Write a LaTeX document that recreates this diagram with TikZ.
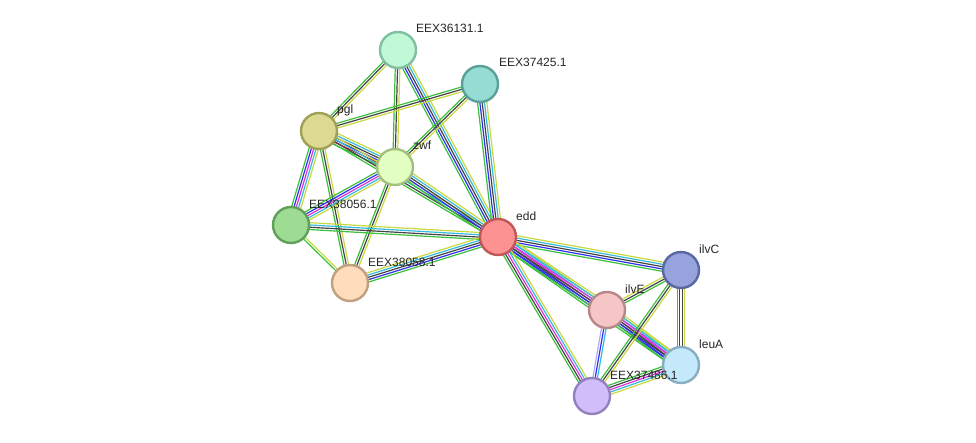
\documentclass[tikz,border=0pt]{standalone}
\usepackage{fontspec}
\setmainfont{Liberation Sans}
\usetikzlibrary{calc,backgrounds}
\definecolor{sg}{HTML}{3CC03C}
\definecolor{sb}{HTML}{3030F0}
\definecolor{sk}{HTML}{444444}
\definecolor{sm}{HTML}{DD33DD}
\definecolor{sc}{HTML}{33BBDD}
\definecolor{sy}{HTML}{C8D840}
\definecolor{sr}{HTML}{EE2222}
\definecolor{sl}{HTML}{AAAAFF}
\definecolor{fA}{HTML}{C0F9D6}\definecolor{dA}{HTML}{80C0A0}
\definecolor{fB}{HTML}{94DCD4}\definecolor{dB}{HTML}{58A098}
\definecolor{fC}{HTML}{DDD993}\definecolor{dC}{HTML}{A0A058}
\definecolor{fD}{HTML}{E2FEC0}\definecolor{dD}{HTML}{A4C080}
\definecolor{fE}{HTML}{9DDC92}\definecolor{dE}{HTML}{60A058}
\definecolor{fF}{HTML}{FD9292}\definecolor{dF}{HTML}{C05858}
\definecolor{fG}{HTML}{FEDCBC}\definecolor{dG}{HTML}{C0A080}
\definecolor{fH}{HTML}{96A3DC}\definecolor{dH}{HTML}{5A68A0}
\definecolor{fI}{HTML}{F6C6C6}\definecolor{dI}{HTML}{B88888}
\definecolor{fJ}{HTML}{C4E9FB}\definecolor{dJ}{HTML}{88ACC0}
\definecolor{fK}{HTML}{D0BEFA}\definecolor{dK}{HTML}{9480C0}
\tikzset{
  prot/.style={circle, minimum size=36pt, inner sep=0pt, line width=2.4pt},
  lab/.style={anchor=west, inner sep=0pt, font=\fontsize{12}{14}\selectfont, text=black!85},
}
\newcommand\sedge[3]{%
  \foreach \c [count=\k] in {#3}{\xdef\ncnt{\k}}%
  \foreach \c [count=\k] in {#3}{%
    \pgfmathsetmacro\off{(\k-(\ncnt+1)/2)*2.3}%
    \draw[\c, line width=1.2pt] ($(#1.center)!\off pt!90:(#2.center)$) -- ($(#2.center)!\off pt!-90:(#1.center)$);
  }}
\begin{document}
\begin{tikzpicture}[x=1pt,y=-1pt]
\useasboundingbox (0,0) rectangle (976,442);
% nodes
\node[prot, fill=fA, draw=dA] (n36131) at (398,50) {};
\node[prot, fill=fB, draw=dB] (n37425) at (480,84) {};
\node[prot, fill=fC, draw=dC] (pgl) at (319,131) {};
\node[prot, fill=fD, draw=dD] (zwf) at (395,167) {};
\node[prot, fill=fE, draw=dE] (n38056) at (291,225) {};
\node[prot, fill=fF, draw=dF] (edd) at (498,237) {};
\node[prot, fill=fG, draw=dG] (n38058) at (350,283) {};
\node[prot, fill=fH, draw=dH] (ilvC) at (681,270) {};
\node[prot, fill=fI, draw=dI] (ilvE) at (607,310) {};
\node[prot, fill=fJ, draw=dJ] (leuA) at (681,365) {};
\node[prot, fill=fK, draw=dK] (n37486) at (592,396) {};
% labels
\node[lab] (l36131) at (416,28) {EEX36131.1};
\node[lab] (l37425) at (499,62) {EEX37425.1};
\node[lab] (lpgl) at (337,110) {pgl};
\node[lab] (lzwf) at (413,145) {zwf};
\node[lab] (l38056) at (309,204) {EEX38056.1};
\node[lab] (ledd) at (516,216) {edd};
\node[lab] (l38058) at (368,262) {EEX38058.1};
\node[lab] (lilvC) at (699,249) {ilvC};
\node[lab] (lilvE) at (625,289) {ilvE};
\node[lab] (lleuA) at (699,344) {leuA};
\node[lab] (l37486) at (610,375) {EEX37486.1};
% edges
\begin{scope}[on background layer]
\sedge{n36131}{pgl}{sg,sk,sy}
\sedge{n36131}{zwf}{sg,sk,sy}
\sedge{n36131}{edd}{sg,sb,sk,sc,sy}
\sedge{n37425}{pgl}{sg,sk,sy}
\sedge{n37425}{zwf}{sg,sk,sy}
\sedge{n37425}{edd}{sg,sb,sk,sc,sy}
\sedge{pgl}{zwf}{sg,sr,sb,sk,sc,sy}
\sedge{pgl}{edd}{sg,sk,sc,sy}
\sedge{pgl}{n38056}{sg,sb,sm,sc,sy}
\sedge{pgl}{n38058}{sg,sk,sy}
\sedge{zwf}{n38056}{sg,sb,sm,sc,sy}
\sedge{zwf}{n38058}{sg,sk,sy}
\sedge{zwf}{edd}{sg,sb,sk,sc,sy}
\sedge{n38056}{edd}{sg,sk,sc,sy}
\sedge{n38056}{n38058}{sg,sy}
\sedge{n38058}{edd}{sg,sb,sk,sc,sy}
\sedge{edd}{ilvC}{sg,sb,sk,sc,sy}
\sedge{edd}{leuA}{sg,sb,sk,sm,sc,sy}
\sedge{edd}{ilvE}{sg,sb,sk,sm,sc,sy}
\sedge{edd}{n37486}{sg,sk,sm,sc,sy}
\sedge{ilvE}{ilvC}{sg,sk,sy}
\sedge{ilvE}{leuA}{sg,sb,sk,sm,sc,sy}
\sedge{ilvE}{n37486}{sl,sb,sc}
\sedge{ilvC}{leuA}{sg,sb,sk,sy}
\sedge{ilvC}{n37486}{sg,sk,sy}
\sedge{leuA}{n37486}{sg,sk,sm,sc,sy}
\end{scope}
\end{tikzpicture}
\end{document}
